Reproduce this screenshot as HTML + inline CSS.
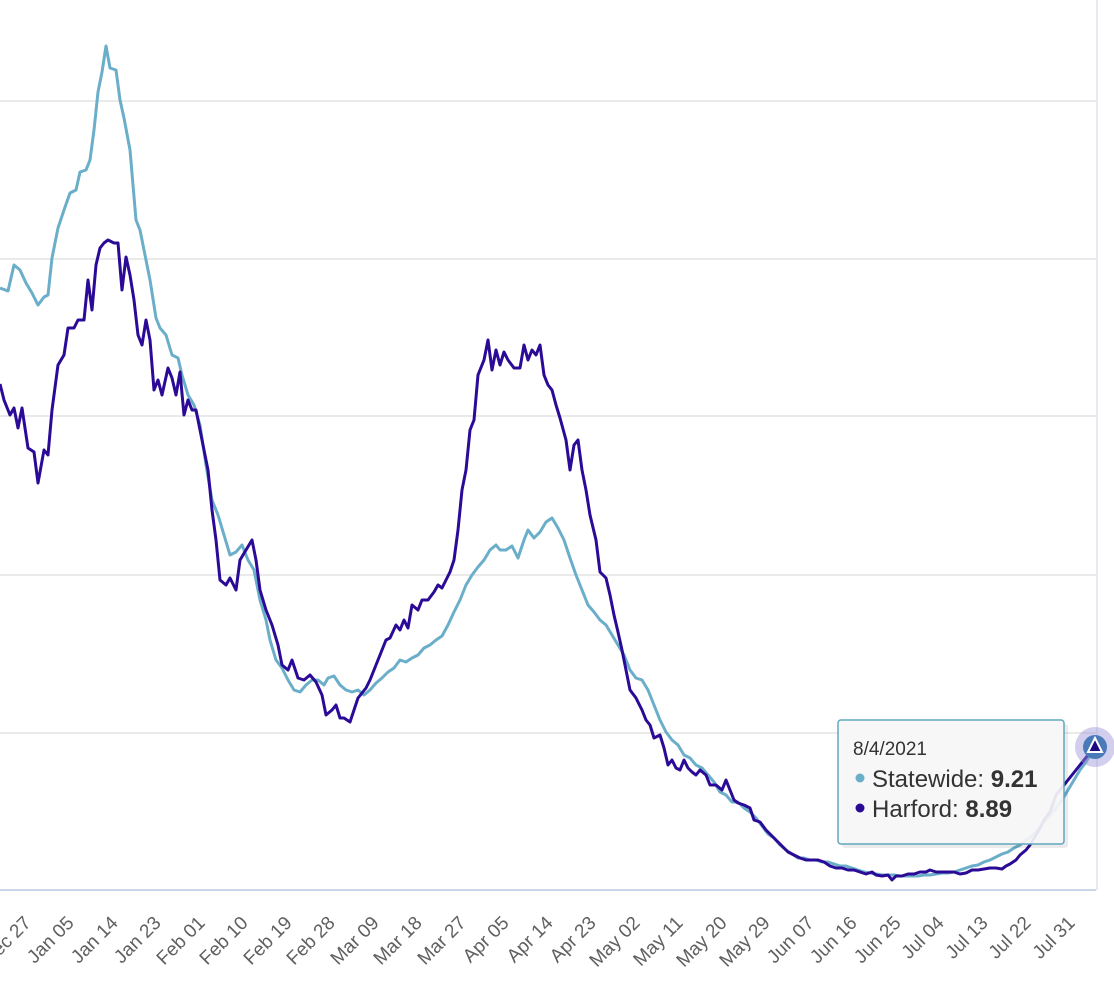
<!DOCTYPE html>
<html><head><meta charset="utf-8"><style>
html,body{margin:0;padding:0;background:#fff;}
svg{display:block;font-family:"Liberation Sans",sans-serif;}
</style></head><body>
<svg width="1114" height="982" viewBox="0 0 1114 982">
<g stroke="#e3e3e3" stroke-width="1.5">
<line x1="0" y1="101" x2="1096" y2="101"/>
<line x1="0" y1="259" x2="1096" y2="259"/>
<line x1="0" y1="416" x2="1096" y2="416"/>
<line x1="0" y1="575" x2="1096" y2="575"/>
<line x1="0" y1="733" x2="1096" y2="733"/>
</g>
<line x1="1097" y1="0" x2="1097" y2="890" stroke="#e6e9f0" stroke-width="2"/>
<line x1="0" y1="890" x2="1096" y2="890" stroke="#ccd6eb" stroke-width="2"/>
<polyline fill="none" stroke="#6aaec9" stroke-width="3" stroke-linejoin="round" points="0,288 8,291 14,265 20,270 26,283 32,293 38,305 44,297 48,295 52,258 58,228 64,210 70,193 76,190 80,172 86,170 90,160 94,130 98,92 102,72 106,46 110,68 116,70 120,100 124,118 130,150 136,220 140,230 146,260 150,280 156,318 160,328 166,335 172,355 178,358 182,375 188,395 194,405 200,425 206,465 212,500 218,515 224,535 230,555 236,552 242,545 248,560 254,570 260,600 266,620 270,640 276,660 282,668 288,680 294,690 300,692 306,685 312,680 318,680 324,685 328,678 334,676 340,685 346,690 352,692 358,690 364,695 370,690 376,683 382,678 388,672 394,668 400,660 406,662 412,658 418,655 424,648 430,645 436,640 442,636 448,625 454,612 460,600 466,585 472,575 478,567 484,560 490,550 496,545 500,550 506,550 512,546 518,558 524,540 528,530 534,538 540,532 546,522 552,518 558,528 564,540 570,558 576,575 582,590 588,605 594,612 600,620 606,625 612,635 618,645 624,655 630,670 636,678 642,680 648,690 654,705 660,720 666,732 672,740 678,745 684,755 690,758 696,765 702,768 708,775 714,782 720,792 726,795 732,802 738,802 744,808 750,812 756,818 762,826 768,834 774,838 780,845 786,850 792,854 798,858 804,858 810,860 816,860 822,862 828,862 834,864 840,866 846,866 852,868 858,870 864,872 870,873 876,874 882,875 888,875 894,875 900,876 906,876 912,876 918,876 924,875 930,875 936,874 942,873 948,873 954,872 960,870 966,868 972,866 978,865 984,862 990,860 996,857 1002,854 1008,852 1014,848 1020,845 1026,840 1032,836 1038,830 1044,822 1050,815 1056,808 1062,800 1068,790 1074,780 1080,770 1086,762 1092,752 1096,745"/>
<polyline fill="none" stroke="#2a0a96" stroke-width="3" stroke-linejoin="round" points="0,384 4,400 10,415 14,408 18,428 22,408 28,448 34,452 38,483 44,450 48,455 52,410 58,365 64,355 68,328 74,328 78,320 84,320 88,280 92,310 96,265 100,248 104,243 108,240 114,243 118,243 122,290 126,257 130,275 134,300 138,335 142,345 146,320 150,340 154,390 158,380 162,395 168,368 172,378 176,395 180,372 184,415 188,400 192,410 196,410 200,430 204,450 208,470 212,510 216,540 220,580 226,585 230,578 236,590 240,560 246,550 252,540 256,560 260,590 266,610 272,625 278,645 282,665 288,670 292,660 298,678 304,680 310,675 316,682 322,695 326,715 332,710 336,705 340,718 344,718 350,722 354,710 358,698 362,693 366,688 370,680 374,670 378,660 382,650 386,640 390,638 396,625 400,630 404,620 408,628 412,605 418,610 422,600 428,600 434,592 438,585 442,588 446,580 450,572 454,560 458,530 462,490 466,470 470,430 474,420 478,375 484,360 488,340 492,370 496,350 500,365 504,352 508,360 514,368 520,368 524,345 528,360 532,350 536,355 540,345 544,375 548,385 552,390 556,405 560,418 566,440 570,470 574,445 578,440 582,470 586,490 590,515 596,540 600,572 606,578 610,595 614,615 618,632 622,650 626,670 630,690 636,698 642,710 646,720 650,725 654,738 660,735 664,748 668,765 672,760 676,768 680,770 684,760 688,768 692,772 696,775 700,770 706,775 710,785 716,785 722,790 726,780 730,790 734,800 738,803 744,805 750,808 754,820 760,822 766,830 770,834 776,840 782,846 788,852 794,855 800,858 806,860 812,860 818,860 824,862 830,866 836,868 842,868 848,870 854,870 860,872 866,874 872,872 876,875 882,876 888,875 892,880 896,876 902,876 908,874 914,874 920,872 926,872 930,870 936,872 942,872 948,872 954,872 960,874 966,873 972,870 978,870 984,869 990,868 996,868 1002,869 1006,866 1010,864 1016,860 1020,855 1026,850 1030,845 1036,835 1040,828 1044,820 1050,812 1056,795 1064,785 1072,775 1080,765 1088,755 1094,747"/>
<circle cx="1095" cy="747" r="20" fill="#9b93d6" fill-opacity="0.45"/>
<circle cx="1095" cy="747" r="12" fill="#4a7ab8"/>
<polygon points="1095,738 1102,752 1088,752" fill="#1e0a80" stroke="#fff" stroke-width="2"/>
<g fill="#606060" font-size="19" text-anchor="end">
<text transform="translate(32,924) rotate(-45)">Dec 27</text>
<text transform="translate(75,924) rotate(-45)">Jan 05</text>
<text transform="translate(119,924) rotate(-45)">Jan 14</text>
<text transform="translate(162,924) rotate(-45)">Jan 23</text>
<text transform="translate(206,924) rotate(-45)">Feb 01</text>
<text transform="translate(249,924) rotate(-45)">Feb 10</text>
<text transform="translate(293,924) rotate(-45)">Feb 19</text>
<text transform="translate(336,924) rotate(-45)">Feb 28</text>
<text transform="translate(380,924) rotate(-45)">Mar 09</text>
<text transform="translate(423,924) rotate(-45)">Mar 18</text>
<text transform="translate(467,924) rotate(-45)">Mar 27</text>
<text transform="translate(510,924) rotate(-45)">Apr 05</text>
<text transform="translate(554,924) rotate(-45)">Apr 14</text>
<text transform="translate(597,924) rotate(-45)">Apr 23</text>
<text transform="translate(641,924) rotate(-45)">May 02</text>
<text transform="translate(684,924) rotate(-45)">May 11</text>
<text transform="translate(728,924) rotate(-45)">May 20</text>
<text transform="translate(771,924) rotate(-45)">May 29</text>
<text transform="translate(815,924) rotate(-45)">Jun 07</text>
<text transform="translate(858,924) rotate(-45)">Jun 16</text>
<text transform="translate(902,924) rotate(-45)">Jun 25</text>
<text transform="translate(945,924) rotate(-45)">Jul 04</text>
<text transform="translate(989,924) rotate(-45)">Jul 13</text>
<text transform="translate(1032,924) rotate(-45)">Jul 22</text>
<text transform="translate(1076,924) rotate(-45)">Jul 31</text>
</g>
<rect x="840" y="722" width="226" height="124" rx="3" fill="#000" fill-opacity="0.08" transform="translate(2,2)"/>
<rect x="838" y="720" width="226" height="124" rx="3" fill="#f7f7f7" fill-opacity="0.92" stroke="#5fa8c0" stroke-width="1.5"/>
<text x="853" y="755" font-size="19" fill="#333">8/4/2021</text>
<circle cx="860" cy="778" r="4.5" fill="#6aaec9"/>
<text x="872" y="787" font-size="24" fill="#333">Statewide: <tspan font-weight="bold">9.21</tspan></text>
<circle cx="860" cy="808" r="4.5" fill="#2a0a96"/>
<text x="872" y="817" font-size="24" fill="#333">Harford: <tspan font-weight="bold">8.89</tspan></text>
</svg>
</body></html>
